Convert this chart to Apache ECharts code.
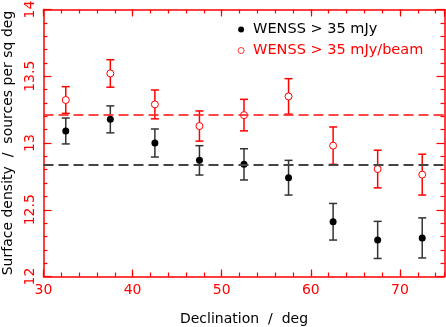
<!DOCTYPE html>
<html>
<head>
<meta charset="utf-8">
<script src="https://cdn.jsdelivr.net/npm/echarts@6/dist/echarts.min.js"></script>
<style>
  html, body { margin: 0; padding: 0; background: #fff; }
  #main { width: 446px; height: 327px; }
</style>
</head>
<body>
<div id="main"></div>
<script>
var declination = [32.5, 37.5, 42.5, 47.5, 52.5, 57.5, 62.5, 67.5, 72.5];
var densityMJy = [13.09, 13.177, 13.0, 12.87, 12.84, 12.74, 12.41, 12.274, 12.289];
var errorMJy = [0.097, 0.101, 0.105, 0.11, 0.117, 0.13, 0.137, 0.139, 0.15];
var densityBeam = [13.322, 13.521, 13.289, 13.127, 13.209, 13.349, 12.98, 12.805, 12.763];
var errorBeam = [0.1, 0.103, 0.108, 0.113, 0.118, 0.133, 0.14, 0.141, 0.153];
var meanMJy = 12.84;
var meanBeam = 13.212;

var nameMJy = 'WENSS > 35 mJy';
var nameBeam = 'WENSS > 35 mJy/beam';
var font = 'DejaVu Sans';

var chartDom = document.getElementById('main');
var myChart = echarts.init(chartDom, null, { renderer: 'canvas' });

function points(ys) {
  return declination.map(function (x, i) { return [x, ys[i]]; });
}
function bars(ys, es) {
  return declination.map(function (x, i) { return [x, ys[i] - es[i], ys[i] + es[i]]; });
}

function errorSeries(data, color) {
  return {
    type: 'custom',
    xAxisIndex: 0,
    yAxisIndex: 0,
    silent: true,
    z: 2,
    data: data,
    renderItem: function (params, api) {
      var lo = api.coord([api.value(0), api.value(1)]);
      var hi = api.coord([api.value(0), api.value(2)]);
      var w = 4;
      var style = { stroke: color, lineWidth: 1.5, fill: null };
      return {
        type: 'group',
        children: [
          { type: 'line', shape: { x1: lo[0], y1: lo[1], x2: hi[0], y2: hi[1] }, style: style },
          { type: 'line', shape: { x1: lo[0] - w, y1: lo[1], x2: lo[0] + w, y2: lo[1] }, style: style },
          { type: 'line', shape: { x1: hi[0] - w, y1: hi[1], x2: hi[0] + w, y2: hi[1] }, style: style }
        ]
      };
    }
  };
}

function xAxisDef(pos, interval, len, showLine, showLabel) {
  return {
    type: 'value',
    position: pos,
    min: 30,
    max: 75,
    interval: interval,
    splitLine: { show: false },
    axisLine: { show: showLine, onZero: false, lineStyle: { color: 'red', width: 1.5 } },
    axisTick: { inside: true, length: len, lineStyle: { color: 'red', width: 1.2 } },
    axisLabel: {
      show: showLabel,
      showMaxLabel: false,
      color: 'red',
      fontFamily: font,
      fontSize: 14,
      margin: 7
    },
    name: showLabel ? 'Declination  /  deg' : '',
    nameLocation: 'middle',
    nameGap: 36,
    nameTextStyle: { color: '#000', fontFamily: font, fontSize: 14 }
  };
}

function yAxisDef(pos, showLabel) {
  return {
    type: 'value',
    position: pos,
    min: 12,
    max: 14,
    interval: 0.5,
    splitLine: { show: false },
    axisLine: { show: true, onZero: false, lineStyle: { color: 'red', width: 1.5 } },
    axisTick: { inside: true, length: 8, lineStyle: { color: 'red', width: 1.2 } },
    minorTick: { show: true, splitNumber: 5, length: 4, lineStyle: { color: 'red', width: 1.2 } },
    axisLabel: {
      show: showLabel,
      rotate: 90,
      color: 'red',
      fontFamily: font,
      fontSize: 14,
      margin: 6
    },
    name: showLabel ? 'Surface density  /  sources per sq deg' : '',
    nameLocation: 'middle',
    nameGap: 28,
    nameTextStyle: { color: '#000', fontFamily: font, fontSize: 14 }
  };
}

var option = {
  animation: false,
  backgroundColor: '#fff',
  grid: {
    left: 43.5, right: 1.5, top: 9.5, bottom: 50.5,
    containLabel: false,
    outerBoundsMode: 'none'
  },
  xAxis: [
    xAxisDef('bottom', 10, 7, true, true),
    xAxisDef('bottom', 2, 4, false, false),
    xAxisDef('top', 10, 7, true, false),
    xAxisDef('top', 2, 4, false, false)
  ],
  yAxis: [
    yAxisDef('left', true),
    yAxisDef('right', false)
  ],
  legend: {
    orient: 'vertical',
    left: 237.7,
    top: 22,
    padding: 0,
    itemWidth: 6,
    itemHeight: 6,
    itemGap: 6,
    textStyle: { fontFamily: font, fontSize: 14.5, lineHeight: 14, padding: [0, 0, 0, 4] },
    data: [
      { name: nameMJy, textStyle: { color: '#000' } },
      { name: nameBeam, textStyle: { color: 'red' }, itemStyle: { borderWidth: 0.8 } }
    ]
  },
  series: [
    errorSeries(bars(densityMJy, errorMJy), '#333'),
    errorSeries(bars(densityBeam, errorBeam), 'red'),
    {
      name: nameMJy,
      type: 'scatter',
      symbol: 'circle',
      symbolSize: 7,
      z: 3,
      itemStyle: { color: '#000', opacity: 1 },
      data: points(densityMJy),
      markLine: {
        silent: true,
        symbol: 'none',
        label: { show: false },
        lineStyle: { color: '#444', width: 2, type: [10, 5] },
        data: [{ yAxis: meanMJy }]
      }
    },
    {
      name: nameBeam,
      type: 'scatter',
      symbol: 'circle',
      symbolSize: 7,
      z: 3,
      itemStyle: { color: '#fff', borderColor: 'red', borderWidth: 1, opacity: 1 },
      data: points(densityBeam),
      markLine: {
        silent: true,
        symbol: 'none',
        label: { show: false },
        lineStyle: { color: 'rgba(255,40,40,0.85)', width: 2, type: [10, 5] },
        data: [{ yAxis: meanBeam }]
      }
    }
  ]
};

option && myChart.setOption(option);
</script>
</body>
</html>
